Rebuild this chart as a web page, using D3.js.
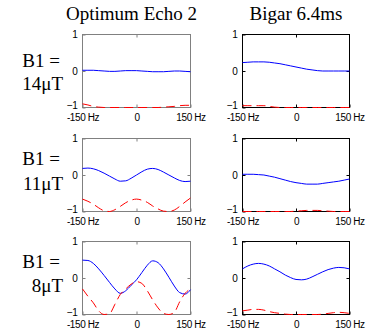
<!DOCTYPE html>
<html>
<head>
<meta charset="utf-8">
<script src="https://cdnjs.cloudflare.com/ajax/libs/d3/7.8.5/d3.min.js"></script>
<style>
  body { margin: 0; background: #fff; }
  svg { display: block; }
</style>
</head>
<body>
<script>
// frequency grid shared by all panels (Hz)
const freqs = [-150,-135,-120,-105,-90,-75,-60,-45,-30,-15,0,15,30,45,60,75,90,105,120,135,150]

const colTitles = ['Optimum Echo 2', 'Bigar 6.4ms']
const rowLabels = ['14\u03bcT', '11\u03bcT', '8\u03bcT']
const xTicks = [-150, 0, 150]
const yTicks = [-1, 0, 1]

// blue = solid curve, red = dashed curve
const echo14Blue = [0.02,0.02,0.02,0.01,0,-0.01,-0.01,0,0.01,0.01,0.01,0,-0.01,-0.02,-0.02,-0.02,-0.01,0,0,-0.01,-0.02]
const echo14Red  = [-0.9,-0.93,-0.97,-0.99,-1,-1,-1,-1,-1,-1,-1,-1,-1,-1,-1,-0.99,-0.98,-0.97,-0.95,-0.94,-0.94]
const bigar14Blue = [0.23,0.24,0.25,0.25,0.25,0.24,0.22,0.2,0.17,0.14,0.11,0.08,0.05,0.03,0.01,0,0,0,0,0,0]
const bigar14Red  = [-0.95,-0.95,-0.95,-0.95,-0.95,-0.97,-0.99,-1,-1,-1,-1,-1,-1,-1,-1,-1,-1,-1,-1,-1,-1]

const echo11Blue = [0.18,0.19,0.17,0.12,0.05,-0.03,-0.11,-0.17,-0.16,-0.09,0,0.09,0.16,0.18,0.15,0.08,0,-0.08,-0.15,-0.18,-0.17]
const echo11Red  = [-0.66,-0.72,-0.8,-0.9,-0.98,-1,-0.95,-0.86,-0.76,-0.69,-0.66,-0.69,-0.75,-0.85,-0.93,-0.99,-1,-0.96,-0.86,-0.74,-0.63]
const bigar11Blue = [0.02,0.02,0.02,0.01,0,-0.03,-0.06,-0.1,-0.14,-0.18,-0.21,-0.23,-0.25,-0.25,-0.25,-0.23,-0.21,-0.19,-0.17,-0.14,-0.11]
const bigar11Red  = [-1,-1,-1,-1,-1,-1,-1,-1,-1,-1,-0.99,-0.98,-0.97,-0.97,-0.97,-0.98,-0.99,-1,-1,-1,-1]

const echo8Blue = [0.49,0.48,0.4,0.25,0.07,-0.12,-0.3,-0.42,-0.35,-0.2,-0.05,0.15,0.35,0.47,0.42,0.25,0.02,-0.22,-0.4,-0.44,-0.32]
const echo8Red  = [-0.3,-0.5,-0.68,-0.9,-1,-0.98,-0.72,-0.45,-0.3,-0.17,-0.1,-0.15,-0.35,-0.6,-0.82,-0.97,-1,-0.94,-0.65,-0.42,-0.3]
const bigar8Blue = [0.25,0.33,0.38,0.4,0.38,0.33,0.25,0.17,0.08,0.01,-0.04,-0.05,-0.03,0.03,0.1,0.17,0.23,0.27,0.29,0.28,0.25]
const bigar8Red  = [-0.9,-0.88,-0.86,-0.86,-0.88,-0.92,-0.95,-0.97,-0.99,-1,-1,-1,-1,-1,-1,-0.99,-0.97,-0.95,-0.94,-0.95,-0.97]

const panels = [
  [[echo14Blue, echo14Red], [bigar14Blue, bigar14Red]],
  [[echo11Blue, echo11Red], [bigar11Blue, bigar11Red]],
  [[echo8Blue, echo8Red], [bigar8Blue, bigar8Red]]
]

const W = 380, H = 334
const colX = [82.5, 242.5]
const colW = [108, 107]
const rowY = [34.5, 138.5, 241.5]
const PH = 73
const frameColor = ['#808080', '#000']
const labelBase = [[67, 90], [165, 190], [268, 292]]

const svg = d3.select('body').append('svg')
  .attr('width', W).attr('height', H)

svg.append('rect').attr('width', W).attr('height', H).attr('fill', '#fff')

// column titles
colTitles.forEach((t, c) => {
  svg.append('text')
    .attr('x', colX[c] + colW[c] / 2 - (c === 0 ? 5 : 0))
    .attr('y', 20)
    .attr('text-anchor', 'middle')
    .style('font-family', '"Liberation Serif", "Times New Roman", serif')
    .style('font-size', '19px')
    .text(t)
})

// row labels
rowLabels.forEach((t, r) => {
  const g = svg.append('g')
    .style('font-family', '"Liberation Serif", "Times New Roman", serif')
    .style('font-size', '19px')
    .attr('text-anchor', 'end')
  g.append('text').attr('x', 60).attr('y', labelBase[r][0]).text('B1 =')
  g.append('text').attr('x', 63).attr('y', labelBase[r][1]).text(t)
})

panels.forEach((row, r) => {
  row.forEach((series, c) => {
    const x = d3.scaleLinear().domain([-150, 150]).range([colX[c], colX[c] + colW[c]])
    const y = d3.scaleLinear().domain([-1, 1]).range([rowY[r] + PH, rowY[r]])
    const g = svg.append('g')

    const styleAxis = sel => {
      sel.select('.domain').remove()
      sel.selectAll('.tick line').attr('stroke', frameColor[c])
      sel.selectAll('text')
        .attr('fill', '#000')
        .style('font-family', '"Liberation Sans", Arial, sans-serif')
        .style('font-size', '10px')
        .style('letter-spacing', '-0.4px')
    }

    g.append('g')
      .attr('transform', `translate(0,${rowY[r] + PH})`)
      .call(d3.axisBottom(x).tickValues(xTicks).tickSizeInner(-3).tickSizeOuter(0).tickPadding(6)
        .tickFormat(d => d === 0 ? '0' : d + ' Hz'))
      .call(styleAxis)
    g.append('g')
      .attr('transform', `translate(0,${rowY[r]})`)
      .call(d3.axisTop(x).tickValues([0]).tickSizeInner(-3).tickSizeOuter(0).tickFormat(''))
      .call(styleAxis)
    g.append('g')
      .attr('transform', `translate(${colX[c]},0)`)
      .call(d3.axisLeft(y).tickValues(yTicks).tickSizeInner(-3).tickSizeOuter(0).tickPadding(5)
        .tickFormat(d3.format('d')))
      .call(styleAxis)
      .call(sel => sel.selectAll('.tick text').filter(d => d === -1).attr('dy', '0.05em'))
    g.append('g')
      .attr('transform', `translate(${colX[c] + colW[c]},0)`)
      .call(d3.axisRight(y).tickValues([0]).tickSizeInner(-3).tickSizeOuter(0).tickFormat(''))
      .call(styleAxis)

    g.append('rect')
      .attr('x', colX[c]).attr('y', rowY[r])
      .attr('width', colW[c]).attr('height', PH)
      .attr('fill', 'none')
      .attr('stroke', frameColor[c])
      .attr('shape-rendering', 'crispEdges')

    const line = d3.line()
      .x((d, i) => x(freqs[i]))
      .y(d => y(d))
      .curve(d3.curveMonotoneX)

    g.append('path')
      .datum(series[0])
      .attr('d', line)
      .attr('fill', 'none')
      .attr('stroke', '#0000ff')
      .attr('stroke-width', 1)

    g.append('path')
      .datum(series[1])
      .attr('d', line)
      .attr('fill', 'none')
      .attr('stroke', '#ff0000')
      .attr('stroke-width', 1)
      .attr('stroke-dasharray', '9,5')
  })
})
</script>
</body>
</html>
